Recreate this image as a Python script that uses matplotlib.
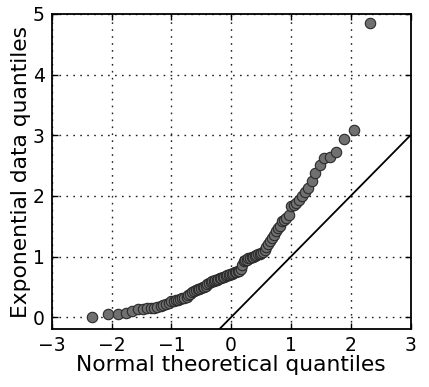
import matplotlib
matplotlib.use("Agg")
import matplotlib.pyplot as plt

# theoretical normal quantiles (plotting positions i/(n+1), n=100), lower half
theo_lower = [-2.330, -2.058, -1.885, -1.755, -1.650, -1.560, -1.481, -1.410, -1.346, -1.287,
              -1.232, -1.180, -1.132, -1.087, -1.043, -1.001, -0.961, -0.922, -0.885, -0.849,
              -0.814, -0.780, -0.746, -0.714, -0.682, -0.651, -0.621, -0.591, -0.562, -0.533,
              -0.505, -0.477, -0.449, -0.422, -0.395, -0.368, -0.342, -0.316, -0.290, -0.264,
              -0.239, -0.213, -0.188, -0.162, -0.137, -0.112, -0.087, -0.062, -0.037, -0.012]
theo_q = theo_lower + [-v for v in reversed(theo_lower)]

# sorted sample (exponential data)
data_q = [0.01, 0.055, 0.06, 0.065, 0.11, 0.13, 0.14, 0.145, 0.15, 0.16,
          0.17, 0.18, 0.20, 0.22, 0.24, 0.26, 0.27, 0.28, 0.29, 0.30,
          0.31, 0.32, 0.34, 0.36, 0.38, 0.41, 0.43, 0.45, 0.46, 0.47,
          0.48, 0.49, 0.50, 0.52, 0.54, 0.56, 0.58, 0.59, 0.60, 0.61,
          0.62, 0.63, 0.64, 0.65, 0.66, 0.67, 0.68, 0.69, 0.70, 0.71,
          0.72, 0.73, 0.74, 0.75, 0.76, 0.77, 0.80, 0.86, 0.92, 0.94,
          0.95, 0.97, 0.98, 0.99, 1.00, 1.01, 1.03, 1.04, 1.05, 1.06,
          1.08, 1.11, 1.15, 1.20, 1.25, 1.30, 1.36, 1.42, 1.47, 1.51,
          1.58, 1.61, 1.63, 1.69, 1.83, 1.85, 1.88, 1.93, 2.00, 2.07,
          2.13, 2.24, 2.37, 2.51, 2.63, 2.64, 2.72, 2.94, 3.08, 4.85]

xticks = [-3, -2, -1, 0, 1, 2, 3]
yticks = [0, 1, 2, 3, 4, 5]

fig = plt.figure(figsize=(4.29, 3.87), dpi=100)
ax = fig.add_axes([0.1205, 0.149, 0.8365, 0.815])

ax.plot(theo_q, data_q, 'o', markersize=7.5, markerfacecolor='#707070',
        markeredgecolor='#2a2a2a', markeredgewidth=0.8, zorder=3)
ax.axline((0, 0), slope=1, color='black', linewidth=1.3, zorder=2)

ax.set_xlim(-3, 3)
ax.set_ylim(-0.2, 5)
ax.set_xticks(xticks)
ax.set_yticks(yticks)
ax.grid(True, color='#222222', linestyle=(0, (1.2, 3.8)), linewidth=1.0)
ax.tick_params(direction='in', length=4, width=1, top=True, right=True,
               labelsize=13.5, pad=5)
for sp in ax.spines.values():
    sp.set_linewidth(1.3)

ax.set_xlabel("Normal theoretical quantiles", fontsize=15.7, labelpad=0)
ax.set_ylabel("Exponential data quantiles", fontsize=15.7, labelpad=1)

fig.savefig("out.png", dpi=100)
